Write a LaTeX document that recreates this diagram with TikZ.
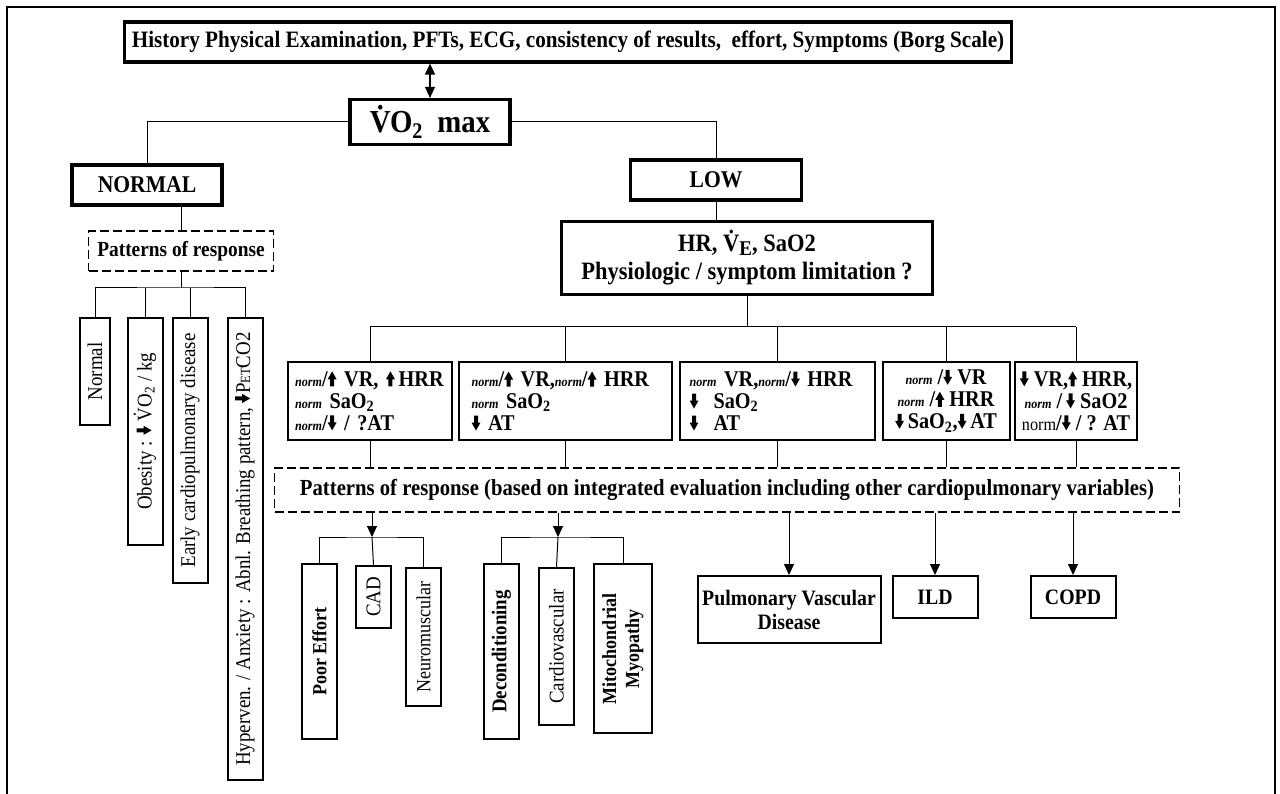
\documentclass[tikz,border=0pt]{standalone}
\usepackage{fontspec}
\setmainfont{Liberation Serif}[FakeStretch=0.9]
\usepackage{graphicx}
\usetikzlibrary{positioning, arrows.meta}

% fat arrows used inside the boxes
\newcommand{\upa}{\tikz[baseline=0pt,x=1pt,y=1pt]\fill (2.5,0) -- (2.5,7) -- (0,7) -- (4.5,15) -- (9,7) -- (6.5,7) -- (6.5,0) -- cycle;}
\newcommand{\dna}{\tikz[baseline=0pt,x=1pt,y=1pt]\fill (2.5,15) -- (2.5,8) -- (0,8) -- (4.5,0) -- (9,8) -- (6.5,8) -- (6.5,15) -- cycle;}
\newcommand{\nrm}{{\fontsize{13.5}{13.5}\selectfont\bfseries\itshape norm}}
\newcommand{\fs}[1]{\fontsize{#1}{#1}\selectfont}

\begin{document}
\begin{tikzpicture}[
    x=1pt, y=-1pt,
    every node/.style={font=\fs{23.5}\bfseries, inner sep=0pt, align=center},
    hbox/.style={draw, line width=3.2pt},
    midbox/.style={draw, line width=2pt, minimum height=78, font=\fontsize{22.5}{22}\selectfont\bfseries},
    dbox/.style={draw, line width=1.6pt, dash pattern=on 9pt off 4pt},
    vbox/.style={draw, line width=2pt, anchor=north, minimum width=35},
    link/.style={line width=1pt},
    arr/.style={-{Triangle[length=11pt, width=10pt]}, line width=1pt},
    dblarr/.style={{Triangle[length=11pt, width=10pt]}-{Triangle[length=11pt, width=10pt]}, line width=1.2pt},
  ]
  \useasboundingbox (0,0) rectangle (1280,794);
  \draw[line width=1.6pt] (7,794) -- (7,7) -- (1275,7) -- (1275,794);

  % ---- top ----
  \node[hbox, minimum width=887, minimum height=40] (hist) at (568,42)
    {History Physical Examination, PFTs, ECG, consistency of results,~ effort, Symptoms (Borg Scale)};
  \node[hbox, minimum width=160, minimum height=45, font=\fs{32}\bfseries] (vo2) at (430,122)
    {\.VO\textsubscript{2}~ max};
  \node[hbox, minimum width=150, minimum height=40, font=\fs{24}\bfseries] (normal) at (147,185) {NORMAL};
  \node[hbox, minimum width=171, minimum height=40, font=\fs{24}\bfseries] (low) at (716,180) {LOW};
  \node[hbox, minimum width=371, minimum height=73, font=\fontsize{25}{28}\selectfont\bfseries] (hr) at (747,258)
    {HR, \.V\raisebox{-4pt}{\fs{21}E}, SaO2\\Physiologic / symptom limitation ?};

  \draw[dblarr] (vo2.north |- hist.south) -- (vo2.north);
  \draw[link] (vo2.west) -| (normal.north);
  \draw[link] (vo2.east) -| (low.north);
  \draw[link] (low.south) -- (low.south |- hr.north);

  % ---- normal branch ----
  \node[dbox, minimum width=185, minimum height=40, font=\fs{21.5}\bfseries] (pat1) at (181,251) {Patterns of response};
  \coordinate (jn) at (pat1.south |- 0,288);
  \node[vbox, minimum width=30, minimum height=107, font=\fs{21}] (nrm) at (95,317) {\rotatebox{90}{Normal}};
  \node[vbox, minimum height=227, font=\fs{21}] (obes) at (145,317) {\rotatebox{90}{Obesity : \dna\ \.VO\textsubscript{2} / kg}};
  \node[vbox, minimum height=265, font=\fs{21}] (early) at (190,317) {\rotatebox{90}{Early cardiopulmonary disease}};
  \node[vbox, minimum height=462, font=\fs{21}] (hyper) at (245,317)
    {\rotatebox{90}{Hyperven. / Anxiety : Abnl. Breathing pattern, \dna P{\fs{14}ET}CO2}};

  \draw[link] (pat1.north) -- (pat1.north |- normal.south);
  \draw[link] (pat1.south) -- (jn);
  \draw[link] (nrm.north) |- (jn) -| (hyper.north);
  \draw[link] (obes.north) -- (obes.north |- jn);
  \draw[link] (early.north) -- (early.north |- jn);

  % ---- low branch ----
  \node[midbox, minimum width=164, text width=150, align=left] (b1) at (370,401)
    {\nrm/\upa\ VR, \upa\,HRR\\\nrm\ SaO\textsubscript{2}\\\nrm/\dna\ / ?AT};
  \node[midbox, minimum width=213, text width=187, align=left] (b2) at (565,401)
    {\nrm/\upa\ VR,\nrm/\upa\ HRR\\\nrm\ SaO\textsubscript{2}\\\dna\ AT};
  \node[midbox, minimum width=195, text width=175, align=left] (b3) at (777,401)
    {\nrm\ VR,\nrm/\dna\ HRR\\\dna\ \ SaO\textsubscript{2}\\\dna\ \ AT};
  \node[midbox, minimum width=127] (b4) at (946,401)
    {\nrm\ /\dna\ VR\\\nrm\ /\upa\ HRR\\\dna\,SaO\textsubscript{2},\dna\,AT};
  \node[midbox, minimum width=122] (b5) at (1076,401)
    {\dna\ VR,\upa\ HRR,\\\nrm\ /\,\dna\ SaO2\\{\mdseries\fs{18}norm}/\dna\ / ? AT};

  \coordinate (jh) at (hr.south |- 0,327);
  \draw[link] (hr.south) -- (jh);
  \draw[link] (b1.north |- jh) -- (b5.north |- jh);
  \foreach \b in {b1,b2,b3,b4,b5}
    \draw[link] (\b.north) -- (\b.north |- jh);

  \node[dbox, minimum width=905, minimum height=44, font=\fs{23}\bfseries] (pat2) at (727,490)
    {Patterns of response (based on integrated evaluation including other cardiopulmonary variables)};
  \foreach \b in {b1,b2,b3,b4,b5}
    \draw[link] (\b.south) -- (\b.south |- pat2.north);

  % ---- outcomes ----
  \coordinate (j1) at (372,537);
  \coordinate (j2) at (558,537);
  \node[vbox, minimum height=175, font=\fs{20}\bfseries] (poor) at (319.5,563) {\rotatebox{90}{Poor Effort}};
  \node[vbox, minimum height=62, font=\fs{21}] (cad) at (373.5,565) {\rotatebox{90}{CAD}};
  \node[vbox, minimum height=138, font=\fs{20}] (neuro) at (423.5,567) {\rotatebox{90}{Neuromuscular}};
  \node[vbox, minimum height=175, font=\fs{21}\bfseries] (decon) at (501.5,563) {\rotatebox{90}{Deconditioning}};
  \node[vbox, minimum height=157, font=\fs{21}] (cardio) at (556.5,567) {\rotatebox{90}{Cardiovascular}};
  \node[vbox, minimum width=58, minimum height=169, font=\fontsize{20}{23}\selectfont\bfseries] (mito) at (623,563)
    {\rotatebox{90}{\begin{tabular}{@{}c@{}}Mitochondrial\\Myopathy\end{tabular}}};

  \draw[arr] (pat2.south -| j1) -- (j1);
  \draw[link] (poor.north) |- (j1) -| (neuro.north);
  \draw[link] (j1) -- (cad.north);
  \draw[arr] (pat2.south -| j2) -- (j2);
  \draw[link] (decon.north) |- (j2) -| (mito.north);
  \draw[link] (j2) -- (cardio.north);

  \node[vbox, minimum width=183, minimum height=67, font=\fontsize{22}{24}\selectfont\bfseries] (pvd) at (789,575)
    {Pulmonary Vascular\\Disease};
  \node[vbox, minimum width=85, minimum height=42, font=\fs{22}\bfseries] (ild) at (935,575) {ILD};
  \node[vbox, minimum width=85, minimum height=42, font=\fs{22}\bfseries] (copd) at (1073,575) {COPD};
  \foreach \b in {pvd,ild,copd}
    \draw[arr] (pat2.south -| \b.north) -- (\b.north);
\end{tikzpicture}
\end{document}
